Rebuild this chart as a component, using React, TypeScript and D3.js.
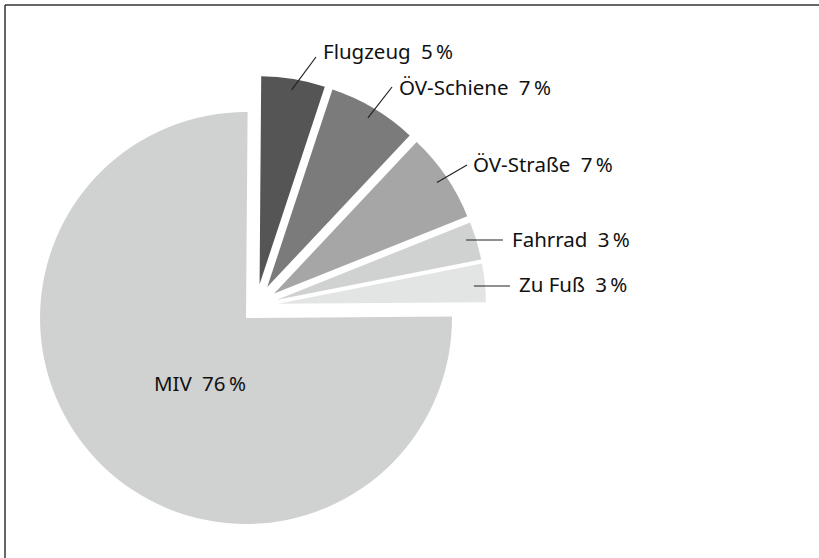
import React from 'react';
import * as d3 from 'd3';

// Modal split (share of trips, %)
const categories = ['Flugzeug', 'ÖV-Schiene', 'ÖV-Straße', 'Fahrrad', 'Zu Fuß', 'MIV'];
const shares = [5, 7, 7, 3, 3, 76];
const fills = ['#555555', '#7b7b7b', '#a6a6a6', '#d0d2d2', '#e3e4e4', '#d0d2d1'];

// label anchor points (where the text starts / leader ends)
const labelPos: [number, number][] = [
  [323, 59],
  [399, 95],
  [473, 172],
  [512, 247],
  [519, 292],
  [200, 391],
];
const leaderEnd: [number, number][] = [
  [316, 57],
  [392, 87],
  [467, 165],
  [503, 240],
  [510, 286],
];
const leaderFlat = [false, false, false, true, true];

const W = 819;
const H = 558;
const bigCenter = [246, 318];
const bigR = 206;
const smallCenter = [256, 306];
const smallR = 208;
const explode = 22;
// rotate slightly so the rounding surplus (sum 101 %) is split between both edges
const rot = (0.45 * Math.PI) / 180;

export default function App() {
  const slices = d3
    .pie<number>()
    .sort(null)
    .startAngle(rot)
    .endAngle(rot + 2 * Math.PI)
    .value((d) => d)(shares);

  const arc = d3.arc<d3.PieArcDatum<number>>().innerRadius(0);

  const font = '"Noto Sans", "Open Sans", sans-serif';

  return (
    <div style={{ position: 'fixed', left: 0, top: 0 }}>
      <svg width={W} height={H} style={{ display: 'block', background: '#fff' }}>
        {/* frame, only top and left edges visible */}
        <line x1={5} y1={5} x2={W} y2={5} stroke="#333" strokeWidth={1.5} />
        <line x1={5} y1={5} x2={5} y2={H} stroke="#333" strokeWidth={1.5} />

        {slices.map((s, i) => {
          const mid = (s.startAngle + s.endAngle) / 2;
          const isBig = i === categories.length - 1;
          const cx = isBig ? bigCenter[0] : smallCenter[0] + explode * Math.sin(mid);
          const cy = isBig ? bigCenter[1] : smallCenter[1] - explode * Math.cos(mid);
          const r = isBig ? bigR : smallR;
          const path = arc.outerRadius(r)(s) || '';
          return (
            <g key={categories[i]} transform={`translate(${cx},${cy})`}>
              <path d={path} fill={fills[i]} />
            </g>
          );
        })}

        {slices.map((s, i) => {
          if (i === categories.length - 1) return null;
          const mid = (s.startAngle + s.endAngle) / 2;
          const cx = smallCenter[0] + explode * Math.sin(mid);
          const cy = smallCenter[1] - explode * Math.cos(mid);
          const ri = smallR - 11;
          const x1 = cx + ri * Math.sin(mid);
          const y1 = leaderFlat[i] ? leaderEnd[i][1] : cy - ri * Math.cos(mid);
          return (
            <line
              key={'l' + i}
              x1={x1}
              y1={y1}
              x2={leaderEnd[i][0]}
              y2={leaderEnd[i][1]}
              stroke="#222"
              strokeWidth={1.2}
            />
          );
        })}

        {categories.map((c, i) => (
          <text
            key={'t' + c}
            x={labelPos[i][0]}
            y={labelPos[i][1]}
            fontFamily={font}
            fontSize={20.5}
            fill="#111"
            textAnchor={i === categories.length - 1 ? 'middle' : 'start'}
          >
            {`${c}\u2002${shares[i]}\u2009%`}
          </text>
        ))}
      </svg>
    </div>
  );
}
